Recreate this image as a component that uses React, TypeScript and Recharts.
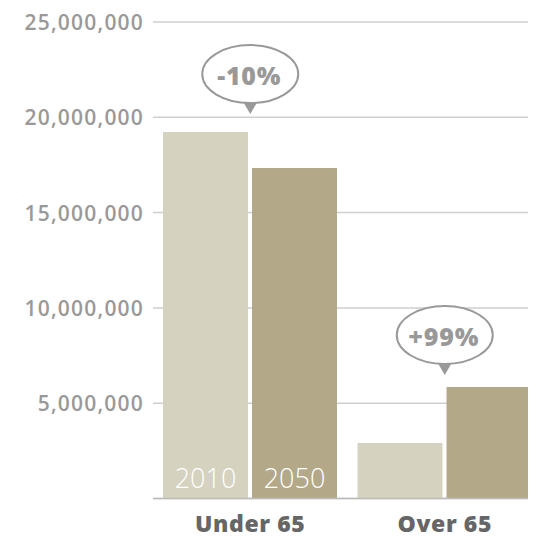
import React from "react";
import { BarChart, Bar, XAxis, YAxis, CartesianGrid, ReferenceDot, LabelList } from "recharts";

const categories = ["Under 65", "Over 65"];
const seriesNames = ["2010", "2050"];
const values2010 = [19230000, 2910000];
const values2050 = [17340000, 5850000];
const changeLabels = ["-10%", "+99%"];
const calloutAt = [20170000, 6480000];
const yTicks = [0, 5000000, 10000000, 15000000, 20000000, 25000000];

const data = categories.map((c, i) => ({ category: c, v2010: values2010[i], v2050: values2050[i] }));

const FONT = "'Open Sans', sans-serif";

const Bubble = (label: string) => (props: any) => {
  const { cx, cy } = props;
  if (cx == null || cy == null) return null;
  return (
    <g>
      <path d={`M ${cx - 7} ${cy - 12} L ${cx + 7} ${cy - 12} L ${cx} ${cy} Z`} fill="#999" />
      <ellipse cx={cx} cy={cy - 40} rx={48} ry={29} fill="#fff" stroke="#999" strokeWidth={2} />
      <text x={cx - 1} y={cy - 39} textAnchor="middle" dominantBaseline="central" fill="#999" fontFamily={FONT} fontWeight={800} fontSize={25} letterSpacing={0.8}>
        {label}
      </text>
    </g>
  );
};

const barName = (name: string) => (props: any) => {
  const { x, y, width, height, index } = props;
  if (index !== 0) return null;
  return (
    <text x={Number(x) + Number(width) / 2} y={Number(y) + Number(height) - 11} textAnchor="middle" fill="#fff" fontFamily={FONT} fontWeight={300} fontSize={27}>
      {name}
    </text>
  );
};

const XTick = (props: any) => {
  const { x, y, payload } = props;
  return (
    <text x={x} y={y + 25} textAnchor="middle" fill="#666" fontFamily={FONT} fontWeight={800} fontSize={23} letterSpacing={0.6}>
      {payload.value}
    </text>
  );
};

const YTick = (props: any) => {
  const { x, y, payload } = props;
  if (payload.value === 0) return null;
  return (
    <text x={x + 1} y={y} textAnchor="end" dominantBaseline="central" fill="#999" fontFamily={FONT} fontWeight={600} fontSize={21} letterSpacing={1.2}>
      {Number(payload.value).toLocaleString("en-US")}
    </text>
  );
};

export default function App() {
  return (
    <div style={{ width: 528, height: 532, overflow: "hidden" }}>
      <BarChart width={535} height={532} data={data} margin={{ top: 14, right: 1, bottom: 0, left: 0 }} barCategoryGap={10} barGap={4}>
        <CartesianGrid vertical={false} stroke="#cfcfcf" strokeWidth={1.5} />
        <XAxis dataKey="category" height={41.5} tickLine={false} axisLine={{ stroke: "#bbb", strokeWidth: 1.5 }} tick={<XTick />} interval={0} />
        <YAxis
          width={145}
          domain={[0, 25000000]}
          ticks={yTicks}
          axisLine={false}
          tickLine={false}
          tickMargin={4}
          tick={<YTick />}
        />
        <Bar dataKey="v2010" name={seriesNames[0]} fill="#D5D2BF" isAnimationActive={false}>
          <LabelList content={barName(seriesNames[0])} />
        </Bar>
        <Bar dataKey="v2050" name={seriesNames[1]} fill="#B3A989" isAnimationActive={false}>
          <LabelList content={barName(seriesNames[1])} />
        </Bar>
        {categories.map((c, i) => (
          <ReferenceDot key={c} x={c} y={calloutAt[i]} r={0} shape={Bubble(changeLabels[i])} />
        ))}
      </BarChart>
    </div>
  );
}
